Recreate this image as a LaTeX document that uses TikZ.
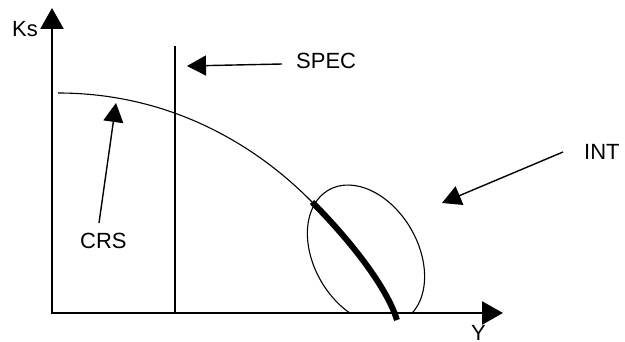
\documentclass[tikz,border=0pt]{standalone}
\usepackage{fontspec}
\setmainfont{Liberation Sans}
\usetikzlibrary{arrows.meta}
\begin{document}
\begin{tikzpicture}[x=1pt,y=-1pt,
  lbl/.style={inner sep=0pt,font=\fontsize{22}{26}\selectfont},
  axis/.style={line width=2.6pt,-{Triangle[length=21pt,width=23pt]}},
  pointer/.style={line width=1.4pt,-{Triangle[length=19pt,width=20pt]}},
  thin/.style={line width=1.1pt}]
\useasboundingbox (0,0) rectangle (625,342);
% axes
\coordinate (O) at (52,313);
\coordinate (ytip) at (52,8);
\coordinate (xtip) at (503,313);
\draw[axis] ([yshift=1.3pt]O) -- (ytip);
\draw[axis] ([xshift=-1.3pt]O) -- (xtip);
% labels
\node[lbl,anchor=base west] (ks) at (12,37) {Ks};
\node[lbl,anchor=base west] (yl) at (471,341) {Y};
\node[lbl,anchor=base west] (spec) at (296,69) {SPEC};
\node[lbl,anchor=base west] (int) at (584,160) {INT};
\node[lbl,anchor=base west] (crs) at (80,249) {CRS};
% SPEC line
\coordinate (spectop) at (175,46);
\coordinate (specbot) at (175,313);
\draw[line width=1.4pt] (spectop) -- (specbot);
% curve
\coordinate (c0) at (58,93);
\coordinate (c1) at (312,202);
\coordinate (c2) at (397,320);
\draw[thin] (c0) .. controls (168,93) and (254,143) .. (c1);
\draw[line width=6pt] (c1) .. controls (342,232) and (385,282) .. (c2);
% ellipse
\begin{scope}
\clip (290,150) rectangle (450,312);
\coordinate (ec) at (366,255);
\draw[thin,rotate around={-60:(ec)}] (ec) ellipse [x radius=75pt, y radius=52pt];
\end{scope}
% pointers
\coordinate (spectail) at (282,64);
\coordinate (spectip) at (187,66);
\draw[pointer] (spectail) -- (spectip);
\coordinate (inttail) at (563,152);
\coordinate (inttip) at (442,203);
\draw[pointer] (inttail) -- (inttip);
\coordinate (crstail) at (99,223);
\coordinate (crstip) at (116,103);
\draw[pointer] (crstail) -- (crstip);
\end{tikzpicture}
\end{document}
